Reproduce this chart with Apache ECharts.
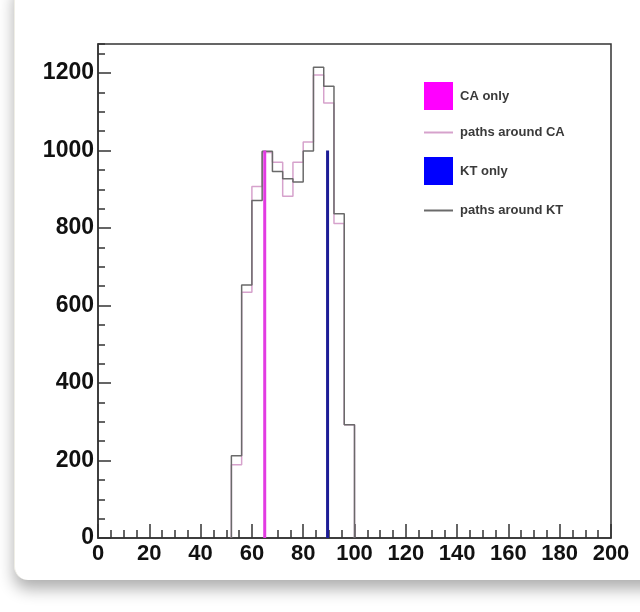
<!DOCTYPE html>
<html>
<head>
<meta charset="utf-8">
<title>Jet mass paths</title>
<script src="https://cdn.jsdelivr.net/npm/echarts@6/dist/echarts.min.js"></script>
<style>
  html, body { margin: 0; padding: 0; background: #ffffff; width: 640px; height: 612px; overflow: hidden; }
  #card { position: absolute; left: 14px; top: -20px; width: 660px; height: 600px; background: #fff;
          border-radius: 14px; border-left: 1px solid #efeee6;
          box-shadow: 0 9px 16px rgba(0,0,0,0.32); }
  #chart { position: absolute; left: 0; top: 0; width: 640px; height: 612px; }
</style>
</head>
<body>
<div id="card"></div>
<div id="chart"></div>
<script>
// histogram binning: 4 GeV bins, only the filled range is listed
const binLow = [52, 56, 60, 64, 68, 72, 76, 80, 84, 88, 92, 96];
const binWidth = 4;
const pathsCA = [189, 634, 907, 995, 970, 882, 970, 1022, 1195, 1123, 812, 292];
const pathsKT = [212, 653, 871, 998, 946, 927, 919, 999, 1215, 1166, 837, 292];
// single-valued spikes
const caOnly = { x: 65, y: 1000 };
const ktOnly = { x: 89.5, y: 1000 };

const xTicks = { min: 0, max: 200, interval: 20 };
const yTicks = { min: 0, max: 1275, interval: 200, minor: 50 };

// step outline of a histogram from bin edges and contents
function outline(values) {
  const pts = [[binLow[0], 0]];
  values.forEach((v, i) => pts.push([binLow[i], v]));
  pts.push([binLow[binLow.length - 1] + binWidth, 0]);
  return pts;
}

const labelFont = { fontFamily: 'Liberation Sans, Arial, sans-serif', fontWeight: 'bold', fontSize: 22, color: '#111' };
const axisDark = { color: '#333', width: 1.5 };

const chart = echarts.init(document.getElementById('chart'), null, { renderer: 'canvas' });

// one legend block per entry so boxes and lines get their own icon sizes
function legendAt(name, top, h) {
  return {
    data: [{ name: name, icon: 'rect' }], left: 424, top: top, orient: 'vertical',
    itemWidth: 29, itemHeight: h, selectedMode: false, padding: 0,
    textStyle: { fontFamily: 'Liberation Sans, Arial, sans-serif', fontSize: 13, fontWeight: 'bold',
                 color: '#3a3a3a', padding: [0, 0, 0, 2] }
  };
}

chart.setOption({
  animation: false,
  backgroundColor: 'transparent',
  grid: { left: 98, right: 29, top: 44, bottom: 74, show: true, borderColor: '#333', borderWidth: 1.5, backgroundColor: 'transparent' },
  legend: [
    legendAt('CA only', 82, 28),
    legendAt('paths around CA', 126, 2),
    legendAt('KT only', 157, 28),
    legendAt('paths around KT', 204, 2)
  ],
  xAxis: {
    type: 'value', min: xTicks.min, max: xTicks.max, interval: xTicks.interval,
    axisLine: { show: true, onZero: false, lineStyle: axisDark },
    axisTick: { show: true, inside: true, length: 14, lineStyle: axisDark },
    minorTick: { show: true, splitNumber: 4, length: 8, lineStyle: axisDark },
    splitLine: { show: false },
    axisLabel: Object.assign({ margin: 5 }, labelFont)
  },
  yAxis: [
    {
      type: 'value', min: yTicks.min, max: yTicks.max, interval: yTicks.interval,
      axisLine: { show: true, lineStyle: axisDark },
      axisTick: { show: true, inside: true, length: 13, lineStyle: axisDark },
      splitLine: { show: false },
      axisLabel: Object.assign({ margin: 4, showMaxLabel: false,
        formatter: v => (v % yTicks.interval === 0 ? String(v) : '') }, labelFont, { fontSize: 23 })
    },
    {
      type: 'value', min: yTicks.min, max: yTicks.max, interval: yTicks.minor,
      position: 'left',
      axisLine: { show: false },
      axisTick: { show: true, inside: true, length: 7, lineStyle: axisDark },
      splitLine: { show: false },
      axisLabel: { show: false }
    }
  ],
  series: [
    {
      name: 'paths around CA', type: 'line', step: 'end', symbol: 'none',
      data: outline(pathsCA),
      lineStyle: { color: '#d6a2cc', width: 1.5 }, itemStyle: { color: '#d6a2cc' }, z: 2
    },
    {
      name: 'paths around KT', type: 'line', step: 'end', symbol: 'none',
      data: outline(pathsKT),
      lineStyle: { color: '#6a6a6a', width: 1.5 }, itemStyle: { color: '#6a6a6a' }, z: 3
    },
    {
      name: 'CA only', type: 'line', symbol: 'none',
      data: [[caOnly.x, 0], [caOnly.x, caOnly.y]],
      lineStyle: { color: '#e23be2', width: 3 }, itemStyle: { color: '#ff00ff' }, z: 4
    },
    {
      name: 'KT only', type: 'line', symbol: 'none',
      data: [[ktOnly.x, 0], [ktOnly.x, ktOnly.y]],
      lineStyle: { color: '#1c1c96', width: 3 }, itemStyle: { color: '#0000ff' }, z: 4
    }
  ]
});
</script>
</body>
</html>
